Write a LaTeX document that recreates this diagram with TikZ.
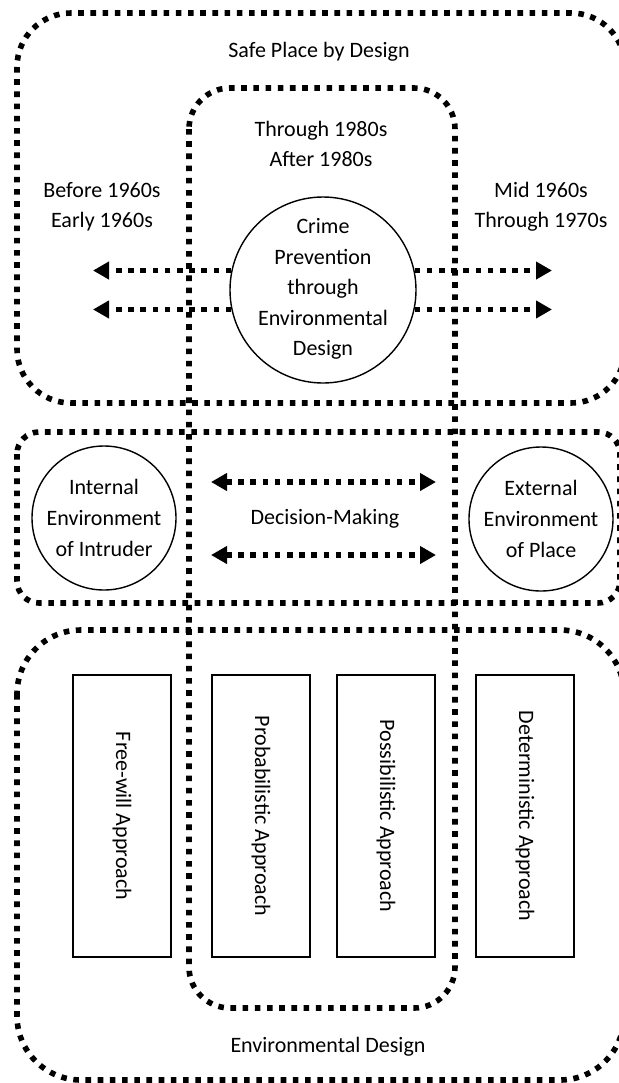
\documentclass[tikz,border=0pt]{standalone}
\usepackage{fontspec}
\setmainfont{Carlito}
\usetikzlibrary{arrows.meta,positioning,shapes.geometric}

\begin{document}
\begin{tikzpicture}[
    x=0.5pt, y=-0.5pt,
    dotline/.style={line width=2.8pt, dash pattern=on 2.8pt off 3.3pt},
    zone/.style={dotline, draw},
    txt/.style={align=center, font=\fontsize{11}{15}\selectfont},
    ringtxt/.style={align=center, font=\fontsize{11}{15.3}\selectfont},
    ring/.style={draw, circle, line width=0.7pt, minimum size=93pt, inner sep=0pt},
    smallring/.style={draw, circle, line width=0.7pt, minimum size=72pt, inner sep=0pt},
    approach/.style={draw, rectangle, line width=0.7pt, minimum width=141pt, minimum height=49pt, rotate=-90, font=\fontsize{11}{13.5}\selectfont},
    onearrow/.style={dotline, -{Triangle[length=8pt, width=8.5pt]}},
    twoarrow/.style={dotline, {Triangle[length=8pt, width=8.5pt]}-{Triangle[length=8pt, width=8.5pt]}}
]
    \useasboundingbox (0,0) rectangle (619,1083);

    \draw[zone, rounded corners=27pt] (17,13) rectangle (625,403);
    \draw[zone, rounded corners=11pt] (17,432) rectangle (620,603);
    \draw[zone, rounded corners=32pt] (17,630) rectangle (624,1080);
    \draw[zone, rounded corners=20.5pt] (189,88) rectangle (455,1008);

    \node[txt] (safe) at (319,52) {Safe Place by Design};
    \node[txt] (eighties) at (321,144) {Through 1980s\\After 1980s};
    \node[txt] (early) at (102,207) {Before 1960s\\Early 1960s};
    \node[txt] (mid) at (541,207) {Mid 1960s\\Through 1970s};

    \node[ring] (cptedring) at (323,290) {};
    \node[ringtxt] (cpted) at (323,289) {Crime\\Prevention\\through\\Environmental\\Design};
    \coordinate (westend) at (93,290);
    \coordinate (eastend) at (552,290);
    \draw[onearrow] (cptedring.168) -- (cptedring.168 -| westend);
    \draw[onearrow] (cptedring.192) -- (cptedring.192 -| westend);
    \draw[onearrow] (cptedring.12) -- (cptedring.12 -| eastend);
    \draw[onearrow] (cptedring.-12) -- (cptedring.-12 -| eastend);

    \node[smallring] (intruderring) at (104,518) {};
    \node[ringtxt] (intruder) at (intruderring) {Internal\\Environment\\of Intruder};
    \node[smallring] (placering) at (541,519) {};
    \node[ringtxt] (place) at (placering) {External\\Environment\\of Place};
    \node[txt] (decision) at (325,519) {Decision-Making};
    \coordinate (dmnw) at (211,482);
    \coordinate (dmne) at (436,482);
    \coordinate (dmsw) at (211,555);
    \coordinate (dmse) at (436,555);
    \draw[twoarrow] (dmnw) -- (dmne);
    \draw[twoarrow] (dmsw) -- (dmse);

    \node[approach] (freewill) at (122,816) {Free-will Approach};
    \node[approach] (probable) at (261,816) {Probabilistic Approach};
    \node[approach] (possible) at (386,816) {Possibilistic Approach};
    \node[approach] (determined) at (525,816) {Deterministic Approach};

    \node[txt] (envdesign) at (328,1047) {Environmental Design};
\end{tikzpicture}
\end{document}
